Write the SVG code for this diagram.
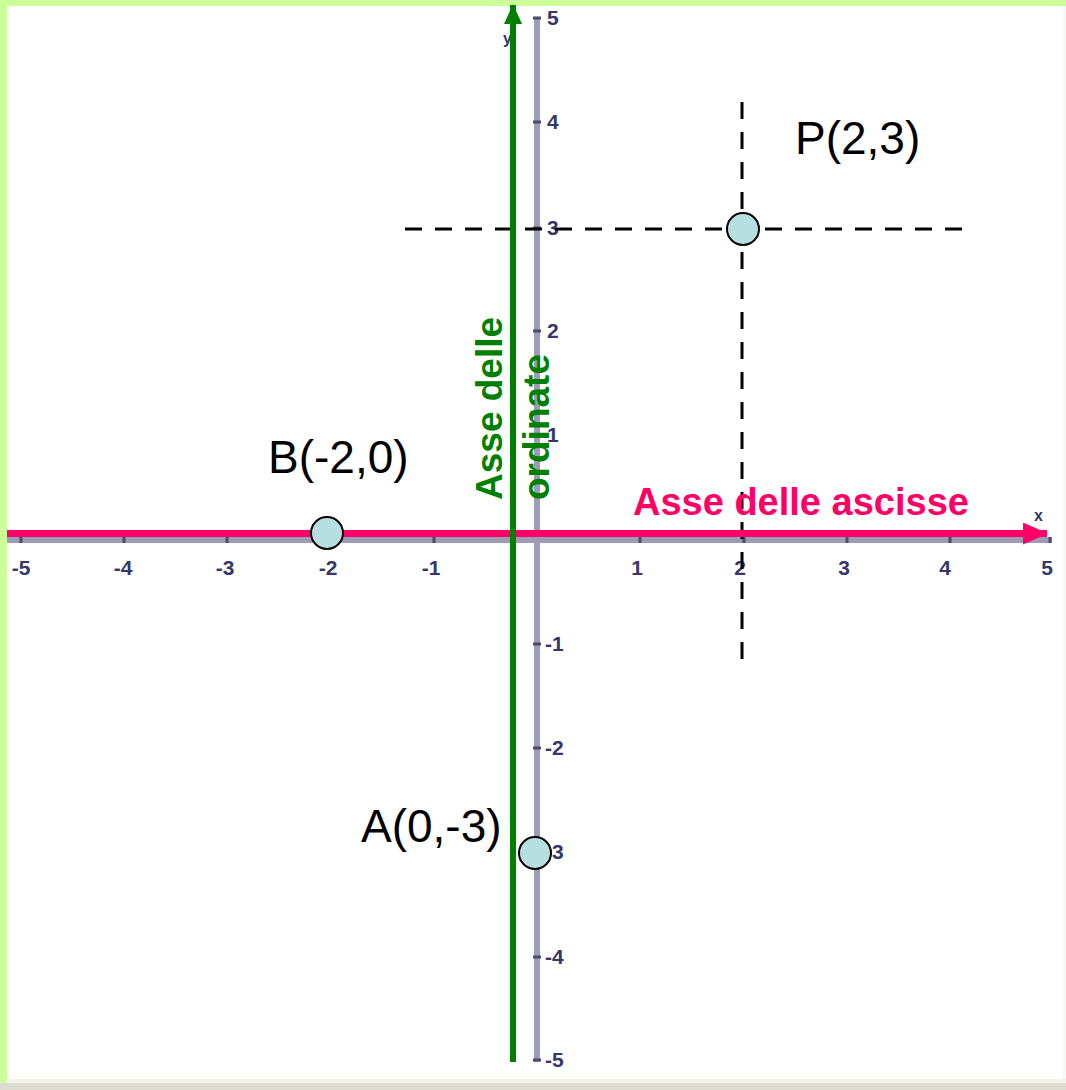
<svg xmlns="http://www.w3.org/2000/svg" width="1066" height="1090" viewBox="0 0 1066 1090">
<style>
.tick{font-family:"Liberation Sans",Arial,sans-serif;font-size:21px;font-weight:bold;fill:#36366a;}
.xt{text-anchor:middle;}
.lbl{font-family:"Liberation Sans",Arial,sans-serif;font-size:46px;fill:#000;}
.pt{fill:#b8dfe0;stroke:#000;stroke-width:2;}
.dash{stroke:#000;stroke-width:3;stroke-dasharray:17 13;fill:none;}
.ax{stroke:#9c9cb6;stroke-width:6;}
.tk{stroke:#4a4a72;stroke-width:3;}
</style>
<defs>
<marker id="ag" markerUnits="userSpaceOnUse" markerWidth="20" markerHeight="22" refX="19" refY="9" orient="auto" viewBox="0 0 20 18"><path d="M0,0 L20,9 L0,18 Z" fill="#008000"/></marker>
<marker id="ap" markerUnits="userSpaceOnUse" markerWidth="25" markerHeight="22" refX="24" refY="11" orient="auto" viewBox="0 0 25 22"><path d="M0,0 L25,11 L0,22 Z" fill="#ff0066"/></marker>
</defs>
<rect x="0" y="0" width="1066" height="1090" fill="#ffffff"/>
<rect x="0" y="0" width="1066" height="6" fill="#ccff99"/>
<rect x="0" y="0" width="7" height="1090" fill="#ccff99"/>
<rect x="1063" y="6" width="3" height="1077" fill="#f6f9ee"/>
<rect x="7" y="1079" width="1059" height="4" fill="#f7f3ea"/>
<rect x="0" y="1083" width="1066" height="7" fill="#dcdcd2"/>

<g id="grid-axes">
<line class="ax" x1="537" y1="17" x2="537" y2="1062"/>
<line class="ax" x1="7" y1="540" x2="1052" y2="540"/>
<g class="tk">
<line x1="533" y1="18" x2="541" y2="18"/><line x1="533" y1="122" x2="541" y2="122"/><line x1="533" y1="228" x2="541" y2="228"/><line x1="533" y1="331" x2="541" y2="331"/><line x1="533" y1="435" x2="541" y2="435"/><line x1="533" y1="644" x2="541" y2="644"/><line x1="533" y1="748" x2="541" y2="748"/><line x1="533" y1="852" x2="541" y2="852"/><line x1="533" y1="957" x2="541" y2="957"/><line x1="533" y1="1060" x2="541" y2="1060"/>
<line x1="21" y1="537" x2="21" y2="543"/><line x1="124" y1="537" x2="124" y2="543"/><line x1="227" y1="537" x2="227" y2="543"/><line x1="330" y1="537" x2="330" y2="543"/><line x1="434" y1="537" x2="434" y2="543"/><line x1="640" y1="537" x2="640" y2="543"/><line x1="744" y1="537" x2="744" y2="543"/><line x1="847" y1="537" x2="847" y2="543"/><line x1="950" y1="537" x2="950" y2="543"/><line x1="1050" y1="537" x2="1050" y2="543"/>
</g>
<g class="tick">
<text x="547" y="25">5</text><text x="547" y="129">4</text><text x="547" y="235">3</text><text x="547" y="338">2</text><text x="547" y="442">1</text>
<text x="545" y="651">-1</text><text x="545" y="755">-2</text><text x="545" y="859">-3</text><text x="545" y="964">-4</text><text x="545" y="1067">-5</text>
</g>
<g class="tick xt">
<text x="21" y="575">-5</text><text x="123" y="575">-4</text><text x="225" y="575">-3</text><text x="328" y="575">-2</text><text x="431" y="575">-1</text>
<text x="637" y="575">1</text><text x="740" y="575">2</text><text x="844" y="575">3</text><text x="945" y="575">4</text><text x="1047" y="575">5</text>
</g>
<text x="503" y="44" class="tick" style="font-size:16px">y</text>
<text x="1034" y="521" class="tick" style="font-size:16px">x</text>
</g>

<g id="connectors">
<line class="dash" x1="405" y1="229" x2="968" y2="229"/>
<line class="dash" x1="742" y1="102" x2="742" y2="662"/>
<line x1="7" y1="533.5" x2="1047" y2="533.5" stroke="#ff0066" stroke-width="7" marker-end="url(#ap)"/>
<line x1="513" y1="1062" x2="513" y2="5" stroke="#008000" stroke-width="6" marker-end="url(#ag)"/>
</g>

<g id="label-ascisse">
<text x="633" y="515" font-family="Liberation Sans, Arial, sans-serif" font-size="38" font-weight="bold" fill="#ff0066">Asse delle ascisse</text>
</g>
<g id="label-ordinate" font-family="Liberation Sans, Arial, sans-serif" font-size="37" font-weight="bold" fill="#008000">
<text transform="translate(502,500) rotate(-90)">Asse delle</text>
<text transform="translate(549,500) rotate(-90)">ordinate</text>
</g>

<g id="point-P">
<circle class="pt" cx="743" cy="229" r="16"/>
<text class="lbl" x="795" y="154">P(2,3)</text>
</g>
<g id="point-B">
<circle class="pt" cx="327" cy="533" r="16"/>
<text class="lbl" x="268" y="473">B(-2,0)</text>
</g>
<g id="point-A">
<circle class="pt" cx="535" cy="853" r="16"/>
<text class="lbl" x="361" y="842">A(0,-3)</text>
</g>
</svg>
